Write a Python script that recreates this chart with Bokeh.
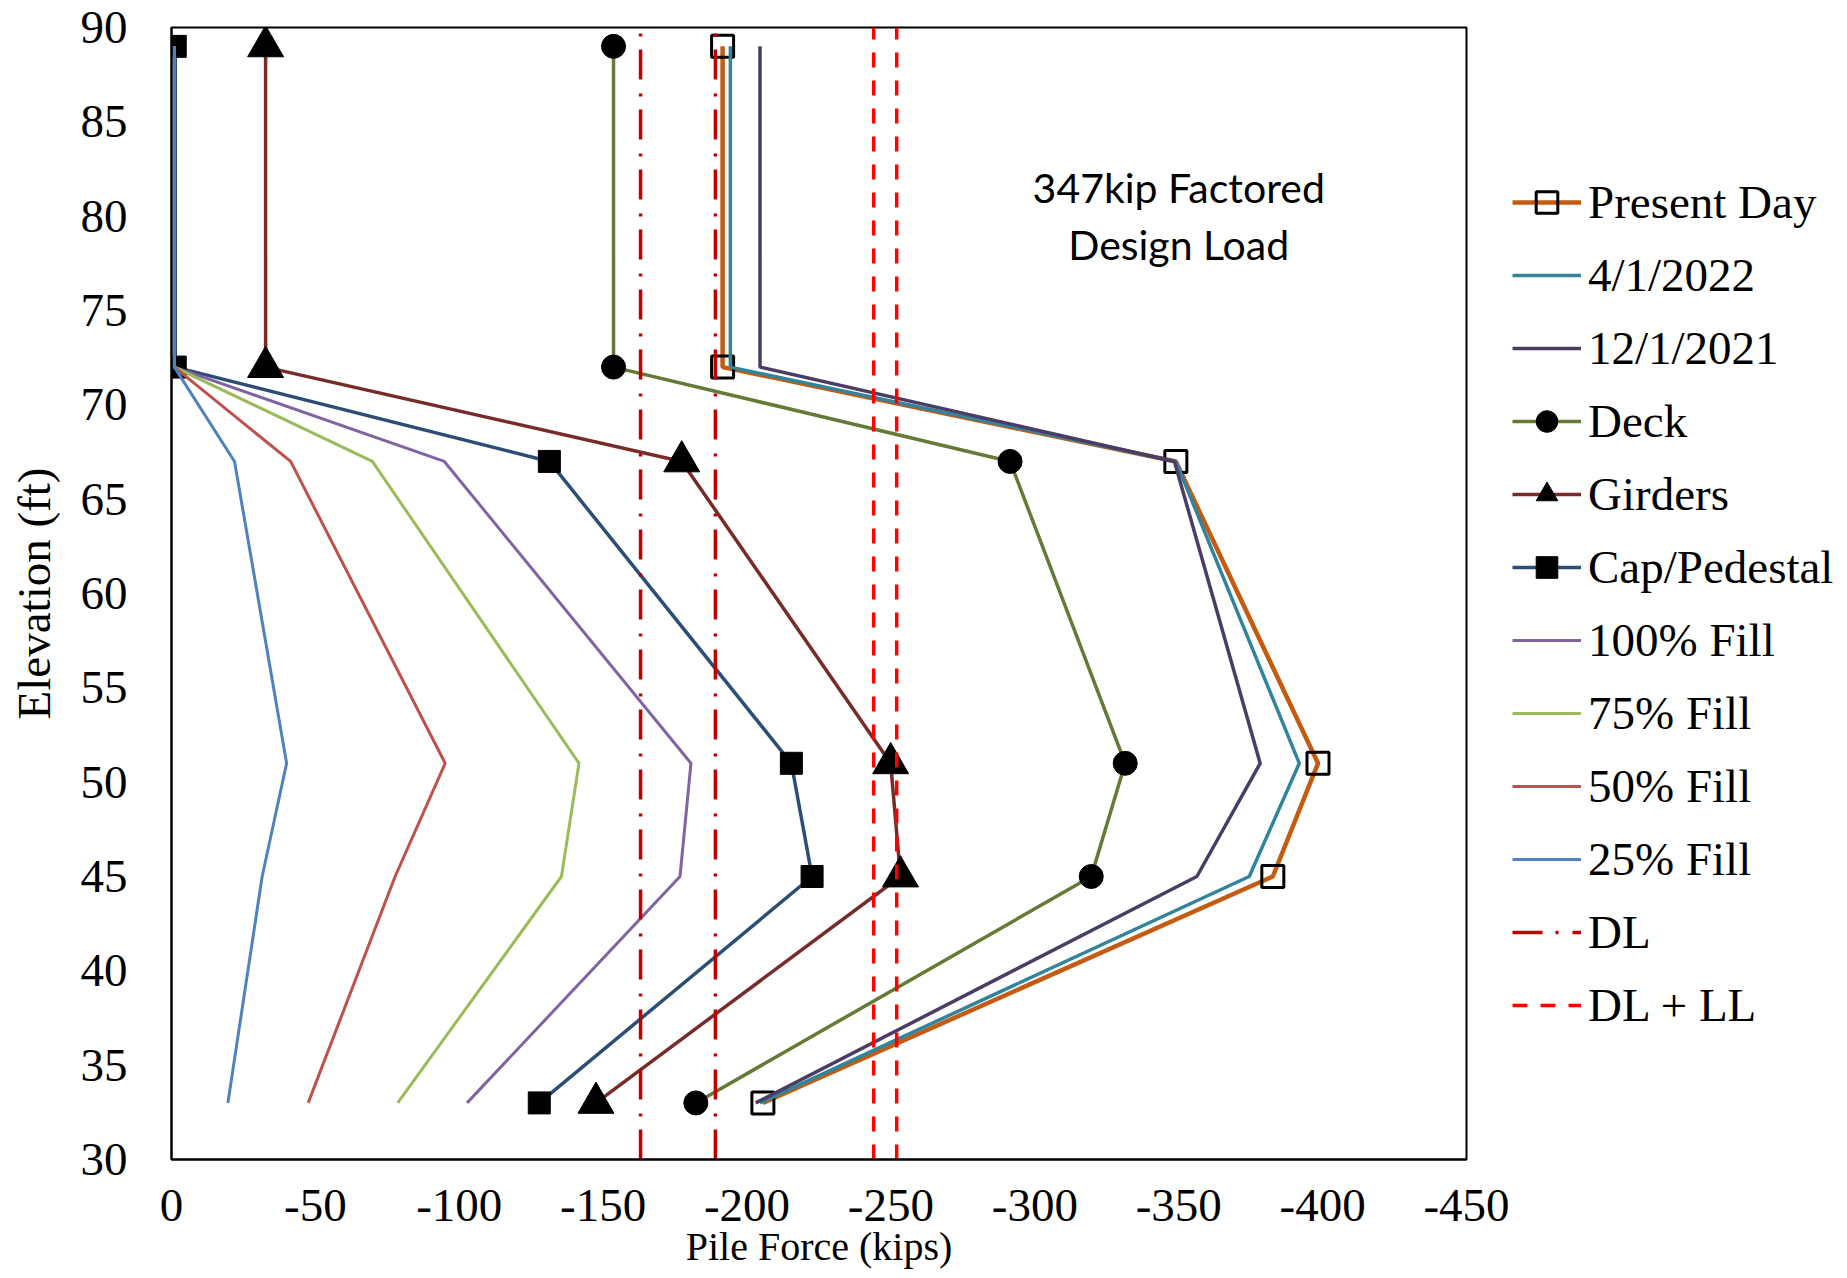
from bokeh.plotting import figure
from bokeh.layouts import row
from bokeh.models import Range1d, Legend, LegendItem, FixedTicker
from bokeh.embed import file_html
from bokeh.resources import INLINE
from bokeh.core.properties import value

# Pile elevations (ft) at which forces are reported
elevation = [89, 72, 67, 51, 45, 33]

# Pile force (kips) for each load stage
present_day = [-191.5, -191.5, -349, -398.4, -382.7, -205.5]
apr_2022 = [-194.2, -194.2, -349, -391.9, -374.5, -204.5]
dec_2021 = [-204.5, -204.5, -348.5, -378.3, -356.3, -203]
deck = [-153.6, -153.6, -291.4, -331.4, -319.6, -182.2]
girders = [-32.7, -32.7, -177.3, -249.9, -253.3, -147.5]
cap_pedestal = [-1.3, -1.3, -131.3, -215.4, -222.6, -127.8]
fill_100 = [-1, -1, -94.8, -180.5, -176.7, -102.7]
fill_75 = [-1, -1, -69.8, -141.6, -135.5, -78.6]
fill_50 = [-1, -1, -41.4, -95.1, -77.7, -47.5]
fill_25 = [-1, -1, -21.9, -40, -31.5, -19.6]

# Reference load levels (kips)
dl_levels = [-163, -189]
dl_ll_levels = [-244, -252]

x_ticks = [0, -50, -100, -150, -200, -250, -300, -350, -400, -450]
y_ticks = [30, 35, 40, 45, 50, 55, 60, 65, 70, 75, 80, 85, 90]

SERIF = "Liberation Serif"
HEIGHT = 1278

p = figure(width=1512, height=HEIGHT, output_backend="svg", toolbar_location=None,
           x_range=Range1d(0, -450), y_range=Range1d(30, 90),
           min_border_left=171, min_border_right=46,
           min_border_top=27, min_border_bottom=119)

p.xgrid.visible = False
p.ygrid.visible = False
p.outline_line_color = "black"
p.outline_line_width = 2
p.background_fill_color = "white"
p.border_fill_color = "white"

for ax in (p.xaxis[0], p.yaxis[0]):
    ax.axis_line_color = "black"
    ax.axis_line_width = 2
    ax.major_tick_line_color = None
    ax.minor_tick_line_color = None
    ax.major_tick_out = 0
    ax.major_tick_in = 0
    ax.major_label_text_font = SERIF
    ax.major_label_text_font_size = "47px"
    ax.major_label_text_color = "black"
    ax.axis_label_text_font = SERIF
    ax.axis_label_text_font_size = "47px"
    ax.axis_label_text_font_style = "normal"
    ax.axis_label_text_color = "black"

p.xaxis.ticker = FixedTicker(ticks=x_ticks)
p.yaxis.ticker = FixedTicker(ticks=y_ticks)
# plain hyphen-minus labels for the force axis
p.xaxis.major_label_overrides = {t: "%d" % t for t in x_ticks}
p.xaxis.major_label_standoff = 30
p.yaxis.major_label_standoff = 44
p.yaxis.axis_label = "Elevation (ft)"
p.yaxis.axis_label_standoff = 18
p.xaxis.axis_label = "Pile Force (kips)"
p.xaxis.axis_label_standoff = 0
p.xaxis.axis_label_text_font_size = "40px"

# Side panel holding the key; its proxy glyphs sit outside its (0, 1) view
k = figure(width=335, height=HEIGHT, output_backend="svg", toolbar_location=None,
           x_range=Range1d(0, 1), y_range=Range1d(0, 1), min_border=0)
k.axis.visible = False
k.grid.visible = False
k.outline_line_color = None
k.border_fill_color = "white"
k.background_fill_color = "white"

items = []

def series(name, xs, color, width, marker=None, msize=22, fill=True):
    line_kw = dict(line_color=color, line_width=width)
    mark_kw = dict(marker=marker, size=msize,
                   fill_color="black" if fill else "white",
                   fill_alpha=1.0 if fill else 0.0,
                   line_color="black", line_width=3 if not fill else 1)
    p.line(xs, elevation, **line_kw)
    keys = [k.line(xs[:1], elevation[:1], **line_kw)]
    if marker is not None:
        p.scatter(xs, elevation, **mark_kw)
        keys.append(k.scatter(xs[:1], elevation[:1], **mark_kw))
    items.append(LegendItem(label=name, renderers=keys))

series("Present Day", present_day, "#C55A11", 4.5, "square", 22, fill=False)
series("4/1/2022", apr_2022, "#31849B", 3.5)
series("12/1/2021", dec_2021, "#4B3C66", 3.5)
series("Deck", deck, "#647A35", 3.5, "circle", 24)
series("Girders", girders, "#772C2A", 3.5, "triangle", 36)
series("Cap/Pedestal", cap_pedestal, "#2C4D75", 3.5, "square", 22)
series("100% Fill", fill_100, "#8064A2", 3)
series("75% Fill", fill_75, "#9BBB59", 3)
series("50% Fill", fill_50, "#C0504D", 3)
series("25% Fill", fill_25, "#4F81BD", 3)

dl_kw = dict(line_color="#C00000", line_width=3.5, line_dash="30 13 3 14")
for v in dl_levels:
    p.line([v, v], [30, 90], **dl_kw)
items.append(LegendItem(label="DL",
                        renderers=[k.line(dl_levels[:1], [30], **dl_kw)]))

dlll_kw = dict(line_color="#FF0000", line_width=3.5, line_dash="15 13")
for v in dl_ll_levels:
    p.line([v, v], [30, 90], **dlll_kw)
items.append(LegendItem(label="DL + LL",
                        renderers=[k.line(dl_ll_levels[:1], [30], **dlll_kw)]))

p.text(x=[-350, -350], y=[81.5, 78.5],
       text=["347kip Factored", "Design Load"],
       text_font=value("Lato"), text_font_size="41px", text_color="black",
       text_align="center", text_baseline="middle")

legend = Legend(items=items, location=(0, 127))
legend.border_line_color = None
legend.background_fill_alpha = 0
legend.padding = 0
legend.margin = 0
legend.spacing = 19
legend.glyph_width = 69
legend.glyph_height = 54
legend.label_height = 54
legend.label_standoff = 7
legend.label_text_font = SERIF
legend.label_text_font_size = "47px"
legend.label_text_color = "black"
k.add_layout(legend)

layout = row(p, k, spacing=0)
open("out.html", "w").write(file_html(layout, INLINE))
